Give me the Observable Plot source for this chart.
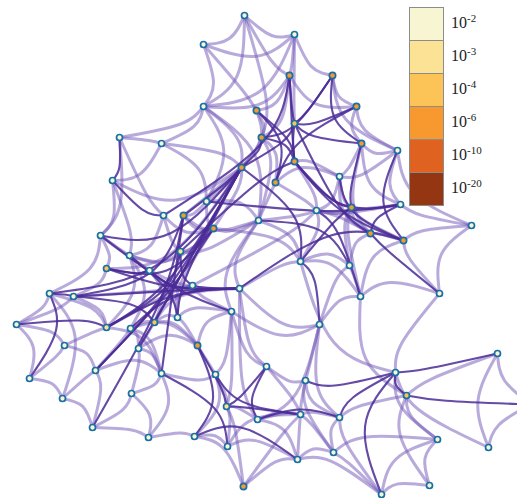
<!DOCTYPE html>
<html>
<head>
<meta charset="utf-8">
<script src="https://cdn.jsdelivr.net/npm/d3@7"></script>
<script src="https://cdn.jsdelivr.net/npm/@observablehq/plot@0.6"></script>
<style>
  html, body { margin: 0; padding: 0; background: #fff; }
  #wrap { position: relative; width: 517px; height: 498px; overflow: hidden; }
  #legend { position: absolute; left: 409px; top: 7px; font-family: "Liberation Serif", "DejaVu Serif", serif; color: #222; }
  .row { position: relative; height: 33px; }
  .sw { position: absolute; left: 0; top: 0; width: 33px; height: 32px; border: 1px solid #8c8c8c; }
  .lab { position: absolute; left: 42px; top: 8px; font-size: 16px; white-space: nowrap; line-height: 16px; }
  .lab sup { font-size: 11px; position: relative; top: -2px; vertical-align: top; line-height: 11px; }
</style>
</head>
<body>
<div id="wrap"></div>
<script>
// p-value legend
const legendExp = ["-2", "-3", "-4", "-6", "-10", "-20"];
const legendColors = ["#f8f6d2", "#fce294", "#fcc457", "#f7992f", "#df6220", "#953613"];

// node layout (x, y) and p-value class
const nodeX = [244,203,294,289,332,356,203,256,294,261,361,294,397,241,275,339,206,183,213,258,316,351,400,370,403,471,300,349,360,439,319,119,161,112,163,100,129,106,149,180,192,239,231,49,73,16,106,130,154,177,197,64,138,95,161,215,29,62,131,226,257,92,148,194,227,266,305,300,339,297,333,243,395,406,497,437,488,429,381,530];
const nodeY = [15,44,34,75,75,106,106,110,123,137,143,161,150,167,182,176,201,215,228,220,210,207,204,233,240,225,261,265,296,293,324,137,143,180,215,235,255,268,270,251,285,288,311,293,296,324,327,328,322,317,345,345,348,370,373,374,378,398,393,406,419,427,437,436,446,366,380,414,417,459,452,486,372,395,353,439,447,485,494,404];
const nodeP = ["-2","-2","-2","-6","-6","-6","-2","-6","-4","-6","-6","-6","-2","-6","-6","-2","-2","-6","-6","-2","-2","-6","-2","-6","-6","-2","-2","-2","-2","-2","-2","-2","-2","-2","-2","-2","-2","-4","-2","-3","-2","-2","-2","-2","-2","-2","-3","-2","-4","-2","-6","-2","-2","-2","-2","-2","-2","-2","-2","-3","-2","-2","-2","-2","-2","-2","-2","-2","-2","-2","-2","-6","-2","-4","-2","-2","-2","-2","-2","-2"];

// bundling centres of the layout
const hubX = [172, 292, 338, 300, 235];
const hubY = [290, 140, 215, 405, 405];

// edges as node index pairs
const strongEdges = [[3,8],[3,11],[4,8],[4,10],[5,8],[7,11],[7,14],[8,11],[8,13],[9,11],[8,10],[11,24],[8,23],[13,17],[11,21],[9,13],[5,14],[10,21],[11,22],[4,9],
[31,33],[33,34],[37,38],[43,13],[37,18],[43,44],[44,17],[45,46],[46,13],[53,18],[44,41],[37,41],[13,52],[17,61],[35,42],[36,49],[48,13],[49,13],[40,41],[39,11],[50,63],[50,59],[53,13],[43,56],[47,41],[46,41],[44,48],[39,40],[34,3],[35,13],[46,39],[38,41],[17,54],
[15,24],[16,22],[19,27],[20,28],[23,29],[21,26],[22,23],[12,24],[26,30],[72,73],[73,79],[68,72],[59,67],[63,69],[66,72],[65,60],[55,67],[59,65],[72,74],[78,72],[60,68],[54,64],[41,24],[13,26]];
const weakEdges = [[0,1],[0,2],[1,2],[1,6],[0,6],[2,6],[0,9],[2,8],[3,6],[3,5],[4,5],[2,4],[6,31],[6,32],[6,16],[6,19],[6,13],[31,32],[31,35],[32,33],[32,16],[33,35],[33,36],[35,37],[35,43],[36,38],[36,39],[34,39],[34,18],[16,17],[16,19],[16,18],[17,18],[19,20],[19,26],[19,41],[19,42],[20,21],[20,26],[20,15],[15,21],[15,11],[15,12],[12,22],[12,10],[12,25],[22,25],[24,25],[25,29],[22,21],[21,23],[21,24],[23,24],[26,27],[26,28],[27,28],[27,21],[27,23],[28,30],[28,29],[24,29],[29,72],[30,41],[30,42],[30,66],[30,60],[26,41],[27,30],[20,22],[14,20],[14,19],[9,19],[10,15],[10,22],[5,12],
[43,45],[43,46],[44,46],[45,56],[45,51],[51,56],[51,53],[51,46],[56,57],[57,53],[57,43],[53,47],[53,54],[53,61],[61,58],[61,62],[58,62],[62,54],[62,63],[52,54],[47,52],[52,58],[48,49],[48,52],[54,55],[55,59],[55,42],[49,42],[40,42],[41,65],[42,65],[55,63],[59,60],[59,64],[63,64],[64,67],[63,71],[71,59],[71,67],[71,69],[64,69],[60,67],[65,66],[66,67],[66,68],[67,68],[67,69],[68,70],[69,70],[67,70],[68,73],[70,75],[70,78],[72,75],[73,75],[73,77],[75,77],[77,78],[75,78],[73,74],[74,76],[74,79],[76,79],[72,76],[69,78],[68,78],[28,73],[30,68],[26,72],[13,16],[7,9],[9,14],[4,12],[3,7],[38,40],[36,46],[37,44],[47,48],[40,49],[39,18],[41,60],[39,19],[40,20],[18,26],[54,58],[57,61],[32,13],[31,34],[46,54],[47,54],[44,45],[50,55],[50,42],[42,59],[65,67],[66,70],[60,69],[20,23],[15,23],[10,23],[5,10],[3,9],[2,3],[0,3],[1,7],[7,13],[14,15],[11,20],[9,17],[13,18],[18,19],[17,19],[33,13],[38,48],[36,47],[35,36],[34,36],[21,28],[24,28],[49,50],[48,50],[47,50],[52,50],[44,40],[35,41],[36,18],[37,13],[49,18],[48,41],[46,40]];

const nodes = nodeX.map((x, i) => ({id: i, x, y: nodeY[i], p: nodeP[i]}));
const hubs = hubX.map((x, i) => ({x, y: hubY[i]}));

// bundled-looking edge paths: source, midpoint pulled toward the nearest hub, target
function edgePaths(list, prefix) {
  const pts = [];
  list.forEach(([a, b], k) => {
    const s = nodes[a], t = nodes[b];
    const mx = (s.x + t.x) / 2, my = (s.y + t.y) / 2;
    const len = Math.hypot(t.x - s.x, t.y - s.y);
    let best = null, bd = Infinity;
    for (const h of hubs) { const d = Math.hypot(h.x - mx, h.y - my); if (d < bd) { bd = d; best = h; } }
    const q = bd / 130;
    const w = 0.7 * Math.exp(-(q * q));
    let dx = (best.x - mx) * w, dy = (best.y - my) * w;
    const m = Math.hypot(dx, dy), cap = 0.2 * len;
    if (m > cap) { dx *= cap / m; dy *= cap / m; }
    const id = prefix + k;
    pts.push({id, x: s.x, y: s.y}, {id, x: mx + dx, y: my + dy}, {id, x: t.x, y: t.y});
  });
  return pts;
}

const chart = Plot.plot({
  width: 517,
  height: 498,
  margin: 0,
  x: {domain: [0, 517], range: [0, 517], axis: null},
  y: {domain: [0, 498], range: [0, 498], axis: null},
  color: {domain: legendExp, range: legendColors},
  marks: [
    Plot.line(edgePaths(weakEdges, "w"), {x: "x", y: "y", z: "id", curve: "natural", stroke: "#7257b8", strokeOpacity: 0.5, strokeWidth: 3}),
    Plot.line(edgePaths(strongEdges, "s"), {x: "x", y: "y", z: "id", curve: "natural", stroke: "#4a2a96", strokeOpacity: 0.85, strokeWidth: 2.1}),
    Plot.dot(nodes, {x: "x", y: "y", r: d => d.p === "-6" ? 4.2 : 3.8, fill: "p", stroke: "#176fa6", strokeWidth: 1.7})
  ]
});

const wrap = document.getElementById("wrap");
wrap.appendChild(chart);

const legend = document.createElement("div");
legend.id = "legend";
legendExp.forEach((e, i) => {
  const row = document.createElement("div");
  row.className = "row";
  row.innerHTML = `<div class="sw" style="background:${legendColors[i]}"></div><div class="lab">10<sup>${e}</sup></div>`;
  legend.appendChild(row);
});
wrap.appendChild(legend);
</script>
</body>
</html>
